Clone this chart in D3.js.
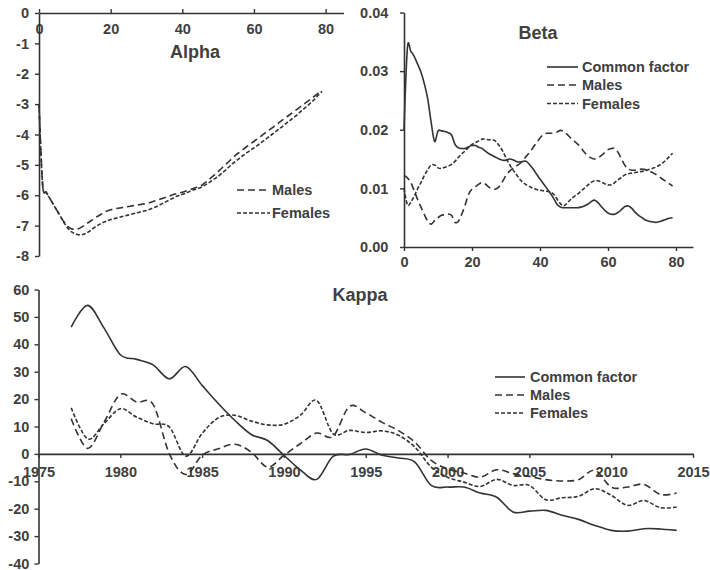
<!DOCTYPE html>
<html>
<head>
<meta charset="utf-8">
<script src="https://cdn.jsdelivr.net/npm/d3@7"></script>
<style>
  body { margin: 0; background: #fff; }
  svg { display: block; }
  text { font-family: "Liberation Sans", Arial, sans-serif; font-weight: bold; fill: #404040; }
</style>
</head>
<body>
<svg id="chart" width="710" height="570"></svg>
<script>
// ---- Alpha (age pattern, ages 0-79) ----
const ages = d3.range(0, 80);
const alphaMales = [
  -3.00, -5.65, -5.90, -6.10, -6.30, -6.50, -6.70, -6.88, -7.02, -7.10,
  -7.12, -7.10, -7.04, -6.96, -6.88, -6.80, -6.72, -6.65, -6.58, -6.52,
  -6.48, -6.45, -6.43, -6.41, -6.39, -6.37, -6.35, -6.33, -6.31, -6.29,
  -6.27, -6.24, -6.20, -6.16, -6.12, -6.08, -6.04, -6.00, -5.96, -5.93,
  -5.90, -5.86, -5.82, -5.78, -5.74, -5.70, -5.62, -5.53, -5.43, -5.33,
  -5.22, -5.11, -5.00, -4.89, -4.78, -4.67, -4.58, -4.49, -4.40, -4.31,
  -4.23, -4.14, -4.05, -3.96, -3.87, -3.79, -3.70, -3.61, -3.52, -3.43,
  -3.35, -3.26, -3.17, -3.08, -2.99, -2.91, -2.82, -2.73, -2.64, -2.56
];
const alphaFemales = [
  -3.00, -5.65, -5.90, -6.10, -6.30, -6.50, -6.70, -6.90, -7.08, -7.20,
  -7.26, -7.30, -7.30, -7.26, -7.19, -7.10, -7.02, -6.95, -6.89, -6.84,
  -6.80, -6.77, -6.74, -6.71, -6.68, -6.65, -6.62, -6.59, -6.56, -6.53,
  -6.50, -6.46, -6.41, -6.36, -6.30, -6.24, -6.18, -6.12, -6.06, -6.01,
  -5.97, -5.93, -5.88, -5.83, -5.79, -5.75, -5.69, -5.62, -5.54, -5.46,
  -5.38, -5.28, -5.18, -5.07, -4.97, -4.87, -4.78, -4.69, -4.60, -4.52,
  -4.44, -4.36, -4.27, -4.18, -4.09, -4.00, -3.91, -3.82, -3.73, -3.63,
  -3.54, -3.45, -3.36, -3.25, -3.15, -3.05, -2.94, -2.83, -2.70, -2.58
];

// ---- Beta (age sensitivities, ages 0-79) ----
const betaCommon = [
  0.0200, 0.0339, 0.0334, 0.0325, 0.0312, 0.0298, 0.0278, 0.0252, 0.0212, 0.0180,
  0.0198, 0.0198, 0.0197, 0.0195, 0.0191, 0.0175, 0.0169, 0.0168, 0.0168, 0.0171,
  0.0173, 0.0173, 0.0170, 0.0168, 0.0163, 0.0159, 0.0156, 0.0153, 0.0150, 0.0148,
  0.0148, 0.0150, 0.0149, 0.0146, 0.0145, 0.0146, 0.0146, 0.0140, 0.0133, 0.0124,
  0.0116, 0.0108, 0.0100, 0.0092, 0.0083, 0.0073, 0.0068, 0.0067, 0.0067, 0.0067,
  0.0067, 0.0067, 0.0068, 0.0070, 0.0073, 0.0077, 0.0080, 0.0076, 0.0069, 0.0063,
  0.0058, 0.0056, 0.0056, 0.0059, 0.0064, 0.0069, 0.0070, 0.0066, 0.0059, 0.0054,
  0.0050, 0.0046, 0.0044, 0.0043, 0.0042, 0.0043, 0.0045, 0.0047, 0.0049, 0.0050
];
const betaMales = [
  0.0122, 0.0118, 0.0110, 0.0096, 0.0081, 0.0068, 0.0055, 0.0044, 0.0039, 0.0045,
  0.0050, 0.0054, 0.0055, 0.0056, 0.0054, 0.0042, 0.0044, 0.0056, 0.0072, 0.0090,
  0.0099, 0.0103, 0.0107, 0.0110, 0.0107, 0.0102, 0.0099, 0.0099, 0.0103, 0.0112,
  0.0122, 0.0129, 0.0134, 0.0138, 0.0142, 0.0148, 0.0155, 0.0162, 0.0170, 0.0178,
  0.0186, 0.0192, 0.0194, 0.0194, 0.0195, 0.0196, 0.0199, 0.0197, 0.0192, 0.0186,
  0.0181, 0.0176, 0.0170, 0.0162, 0.0156, 0.0152, 0.0150, 0.0152, 0.0156, 0.0161,
  0.0166, 0.0168, 0.0168, 0.0161, 0.0150, 0.0139, 0.0133, 0.0131, 0.0131, 0.0132,
  0.0133, 0.0132, 0.0130, 0.0127, 0.0124, 0.0120, 0.0116, 0.0112, 0.0108, 0.0104
];
const betaFemales = [
  0.0100, 0.0072, 0.0076, 0.0087, 0.0099, 0.0110, 0.0122, 0.0132, 0.0140, 0.0140,
  0.0135, 0.0134, 0.0136, 0.0138, 0.0141, 0.0146, 0.0153, 0.0159, 0.0164, 0.0170,
  0.0175, 0.0178, 0.0181, 0.0184, 0.0184, 0.0183, 0.0183, 0.0180, 0.0173, 0.0164,
  0.0152, 0.0141, 0.0132, 0.0124, 0.0116, 0.0110, 0.0106, 0.0103, 0.0100, 0.0098,
  0.0097, 0.0096, 0.0095, 0.0094, 0.0090, 0.0082, 0.0074, 0.0070, 0.0075, 0.0081,
  0.0086, 0.0090, 0.0095, 0.0100, 0.0105, 0.0110, 0.0113, 0.0113, 0.0111, 0.0108,
  0.0106, 0.0106, 0.0110, 0.0115, 0.0119, 0.0123, 0.0125, 0.0126, 0.0127, 0.0128,
  0.0129, 0.0130, 0.0132, 0.0134, 0.0136, 0.0139, 0.0143, 0.0148, 0.0154, 0.0160
];

// ---- Kappa (time index, 1977-2014) ----
const years = [
  1977, 1978, 1979, 1980, 1981, 1982, 1983, 1984, 1985, 1986,
  1987, 1988, 1989, 1990, 1991, 1992, 1993, 1994, 1995, 1996,
  1997, 1998, 1999, 2000, 2001, 2002, 2003, 2004, 2005, 2006,
  2007, 2008, 2009, 2010, 2011, 2012, 2013, 2014
];
const kappaCommon = [
  46.3, 54.2, 46.0, 36.2, 34.5, 32.5, 27.4, 31.9, 25.0, 18.3,
  12.2, 7.1, 4.9, -0.5, -5.8, -9.3, -0.9, -0.2, 1.8, -0.5,
  -1.5, -3.0, -11.5, -12.1, -12.1, -14.3, -15.8, -21.2, -20.9, -20.6,
  -22.4, -23.9, -26.1, -27.9, -28.2, -27.3, -27.4, -27.9
];
const kappaMales = [
  12.8, 2.0, 11.5, 21.7, 18.9, 18.1, 0.0, -7.5, -0.5, 1.9,
  3.5, 0.7, -4.8, -0.5, 3.7, 7.6, 6.4, 17.3, 15.0, 11.5,
  8.5, 4.3, -2.4, -5.4, -7.0, -8.5, -5.8, -7.2, -8.2, -9.4,
  -9.9, -9.4, -6.0, -12.1, -12.1, -11.1, -14.8, -14.3
];
const kappaFemales = [
  16.8, 5.5, 11.0, 16.5, 13.4, 11.0, 9.8, -0.8, 7.5, 13.2,
  14.1, 12.0, 10.6, 10.8, 14.1, 19.5, 7.4, 8.6, 7.8, 8.4,
  6.8, 2.5, -4.8, -8.5, -10.3, -11.9, -9.3, -11.5, -11.5, -16.7,
  -16.0, -15.5, -12.7, -15.1, -18.8, -17.0, -19.6, -19.4
];

// Tick labels
const ageTicks = [0, 20, 40, 60, 80];
const alphaTicks = [-8, -7, -6, -5, -4, -3, -2, -1, 0];
const betaTicks = [0, 0.01, 0.02, 0.03, 0.04];
const yearTicks = [1975, 1980, 1985, 1990, 1995, 2000, 2005, 2010, 2015];
const kappaTicks = [-40, -30, -20, -10, 0, 10, 20, 30, 40, 50, 60];

// ---- drawing ----
const svg = d3.select("#chart");
svg.append("rect").attr("width", 710).attr("height", 570).attr("fill", "#fff");

const ink = "#333333";
const styles = {
  common:  { dash: null },
  males:   { dash: "7,4" },
  females: { dash: "4,2" }
};
const smooth = d3.curveCatmullRom.alpha(0);

function styleAxis(g) {
  g.select(".domain").attr("stroke", ink).attr("stroke-width", 1.6);
  g.selectAll(".tick line").attr("stroke", ink).attr("stroke-width", 1.4);
  g.selectAll(".tick text")
    .attr("fill", "#404040")
    .style("font-size", "14.5px")
    .style("font-weight", "bold")
    .style("font-family", '"Liberation Sans", Arial, sans-serif');
}

function series(g, xs, ys, x, y, style) {
  const line = d3.line()
    .x((d, i) => x(xs[i]))
    .y(d => y(d))
    .curve(smooth);
  g.append("path")
    .attr("d", line(ys))
    .attr("fill", "none")
    .attr("stroke", ink)
    .attr("stroke-width", 1.6)
    .attr("stroke-dasharray", style.dash);
}

function legend(g, x0, x1, tx, entries) {
  entries.forEach(e => {
    g.append("line")
      .attr("x1", x0).attr("x2", x1).attr("y1", e.y).attr("y2", e.y)
      .attr("stroke", ink).attr("stroke-width", 1.6)
      .attr("stroke-dasharray", e.style.dash);
    g.append("text").attr("x", tx).attr("y", e.y + 5)
      .style("font-size", "14.5px").text(e.label);
  });
}

function title(g, cx, y, label) {
  g.append("text").attr("x", cx).attr("y", y).attr("text-anchor", "middle")
    .style("font-size", "18px").text(label);
}

const plain = d => String(d);

// Alpha panel
{
  const g = svg.append("g");
  const x = d3.scaleLinear([0, 85], [39, 343.5]);
  const y = d3.scaleLinear([-8, 0], [256, 13]);
  g.append("g").attr("transform", `translate(0,${y(0)})`)
    .call(d3.axisBottom(x).tickValues(ageTicks).tickFormat(plain)
      .tickSizeInner(-4).tickSizeOuter(0).tickPadding(11))
    .call(styleAxis);
  g.append("g").attr("transform", `translate(${x(0)},0)`)
    .call(d3.axisLeft(y).tickValues(alphaTicks).tickFormat(plain)
      .tickSizeInner(4).tickSizeOuter(0).tickPadding(6))
    .call(styleAxis);
  series(g, ages, alphaMales, x, y, styles.males);
  series(g, ages, alphaFemales, x, y, styles.females);
  title(g, 195, 58, "Alpha");
  legend(g, 237, 270, 272, [
    { y: 190, style: styles.males, label: "Males" },
    { y: 213, style: styles.females, label: "Females" }
  ]);
}

// Beta panel
{
  const g = svg.append("g");
  const x = d3.scaleLinear([0, 85], [404, 693]);
  const y = d3.scaleLinear([0, 0.04], [247, 12.5]);
  g.append("g").attr("transform", `translate(0,${y(0)})`)
    .call(d3.axisBottom(x).tickValues(ageTicks).tickFormat(plain)
      .tickSizeInner(4).tickSizeOuter(0).tickPadding(5.7))
    .call(styleAxis);
  g.append("g").attr("transform", `translate(${x(0)},0)`)
    .call(d3.axisLeft(y).tickValues(betaTicks).tickFormat(d3.format(".2f"))
      .tickSizeInner(4).tickSizeOuter(0).tickPadding(11.7))
    .call(styleAxis);
  series(g, ages, betaCommon, x, y, styles.common);
  series(g, ages, betaMales, x, y, styles.males);
  series(g, ages, betaFemales, x, y, styles.females);
  title(g, 538, 39, "Beta");
  legend(g, 547, 578, 582, [
    { y: 67, style: styles.common, label: "Common factor" },
    { y: 85, style: styles.males, label: "Males" },
    { y: 103.5, style: styles.females, label: "Females" }
  ]);
}

// Kappa panel
{
  const g = svg.append("g");
  const x = d3.scaleLinear([1975, 2015], [38.5, 693]);
  const y = d3.scaleLinear([-40, 60], [563.5, 289.5]);
  g.append("g").attr("transform", `translate(0,${y(0)})`)
    .call(d3.axisBottom(x).tickValues(yearTicks).tickFormat(plain)
      .tickSizeInner(4).tickSizeOuter(0).tickPadding(9))
    .call(styleAxis);
  g.append("g").attr("transform", `translate(${x(1975)},0)`)
    .call(d3.axisLeft(y).tickValues(kappaTicks).tickFormat(plain)
      .tickSizeInner(4).tickSizeOuter(0).tickPadding(5.2))
    .call(styleAxis);
  series(g, years, kappaCommon, x, y, styles.common);
  series(g, years, kappaMales, x, y, styles.males);
  series(g, years, kappaFemales, x, y, styles.females);
  title(g, 360, 301, "Kappa");
  legend(g, 495, 525, 530, [
    { y: 377, style: styles.common, label: "Common factor" },
    { y: 395, style: styles.males, label: "Males" },
    { y: 413, style: styles.females, label: "Females" }
  ]);
}
</script>
</body>
</html>
